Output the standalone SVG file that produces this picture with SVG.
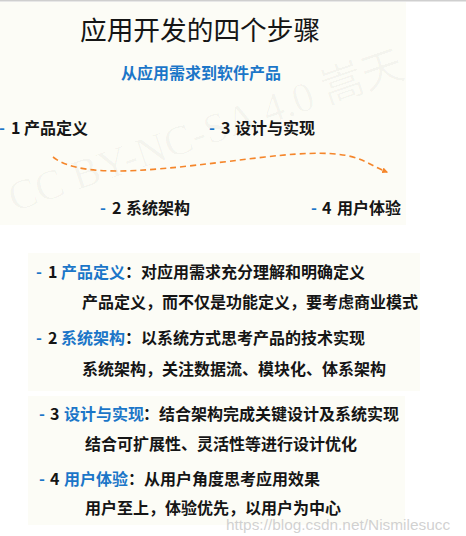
<svg xmlns="http://www.w3.org/2000/svg" width="466" height="536" viewBox="0 0 466 536">
  <style>
    .cjk { font-family: "Noto Sans CJK SC", "Noto Sans", sans-serif; }
    .b { font-weight: bold; fill: #151515; font-size: 16px; }
    .blue { fill: #1b76c8; }
    .panel { fill: #fcfcf6; }
    .wm { font-family: "Liberation Serif", "Noto Sans CJK SC", serif; fill: #000; fill-opacity: 0.03; }
  </style>
  <defs>
    <marker id="arrow" viewBox="0 0 10 10" refX="8" refY="5" markerWidth="6" markerHeight="6" orient="auto" markerUnits="userSpaceOnUse">
      <path d="M0,0 L10,5 L0,10 z" fill="#f5862b"/>
    </marker>
  </defs>
  <rect x="0" y="0" width="466" height="536" fill="#ffffff"/>
  <rect x="0" y="0" width="466" height="1.5" fill="#cfcfcf"/>
  <rect class="panel" x="0" y="2" width="406" height="223"/>
  <rect class="panel" x="28" y="253" width="392" height="138"/>
  <rect class="panel" x="28" y="396" width="377" height="129"/>

  <text class="wm" x="14" y="212" font-size="42" transform="rotate(-19 14 212)">CC BY-NC-SA 4.0 嵩天</text>

  <g id="title">
    <text class="cjk" x="80" y="40" font-size="26.7" fill="#151515">应用开发的四个步骤</text>
  </g>
  <g id="subtitle">
    <text class="cjk blue" x="121" y="79" font-size="16" font-weight="bold">从应用需求到软件产品</text>
  </g>

  <g id="step1">
    <text class="cjk b" y="134" font-size="15.8"><tspan class="blue" x="-1">-</tspan><tspan x="11">1</tspan><tspan x="24">产品定义</tspan></text>
  </g>
  <g id="step3">
    <text class="cjk b" y="134" font-size="15.6"><tspan class="blue" x="209">-</tspan><tspan x="221">3</tspan><tspan x="235">设计与实现</tspan></text>
  </g>
  <g id="step2">
    <text class="cjk b" y="214" font-size="15.6"><tspan class="blue" x="100">-</tspan><tspan x="112">2</tspan><tspan x="126">系统架构</tspan></text>
  </g>
  <g id="step4">
    <text class="cjk b" y="214" font-size="15.8"><tspan class="blue" x="311">-</tspan><tspan x="322">4</tspan><tspan x="337">用户体验</tspan></text>
  </g>

  <g id="connectors">
    <path d="M53,157 C85,182 170,168 265,157 S360,162 387,172" fill="none" stroke="#f5862b" stroke-width="1.6" stroke-dasharray="6,4" marker-end="url(#arrow)"/>
  </g>

  <g id="detail1">
    <text class="cjk b" y="278"><tspan class="blue" x="36">-</tspan><tspan x="48">1</tspan><tspan class="blue" x="61">产品定义</tspan><tspan x="125">：对应用需求充分理解和明确定义</tspan></text>
    <text class="cjk b" x="82" y="308">产品定义，而不仅是功能定义，要考虑商业模式</text>
  </g>
  <g id="detail2">
    <text class="cjk b" y="344"><tspan class="blue" x="36">-</tspan><tspan x="48">2</tspan><tspan class="blue" x="61">系统架构</tspan><tspan x="125">：以系统方式思考产品的技术实现</tspan></text>
    <text class="cjk b" x="82" y="375">系统架构，关注数据流、模块化、体系架构</text>
  </g>
  <g id="detail3">
    <text class="cjk b" y="420"><tspan class="blue" x="39">-</tspan><tspan x="50">3</tspan><tspan class="blue" x="64">设计与实现</tspan><tspan x="143">：结合架构完成关键设计及系统实现</tspan></text>
    <text class="cjk b" x="85" y="450">结合可扩展性、灵活性等进行设计优化</text>
  </g>
  <g id="detail4">
    <text class="cjk b" y="485"><tspan class="blue" x="39">-</tspan><tspan x="50">4</tspan><tspan class="blue" x="64">用户体验</tspan><tspan x="128">：从用户角度思考应用效果</tspan></text>
    <text class="cjk b" x="85" y="514">用户至上，体验优先，以用户为中心</text>
  </g>

  <text x="226" y="530" font-family="Liberation Sans, Arial, sans-serif" font-size="15.4" fill="#c9c9c9" fill-opacity="0.85">https://blog.csdn.net/Nismilesucc</text>
</svg>
